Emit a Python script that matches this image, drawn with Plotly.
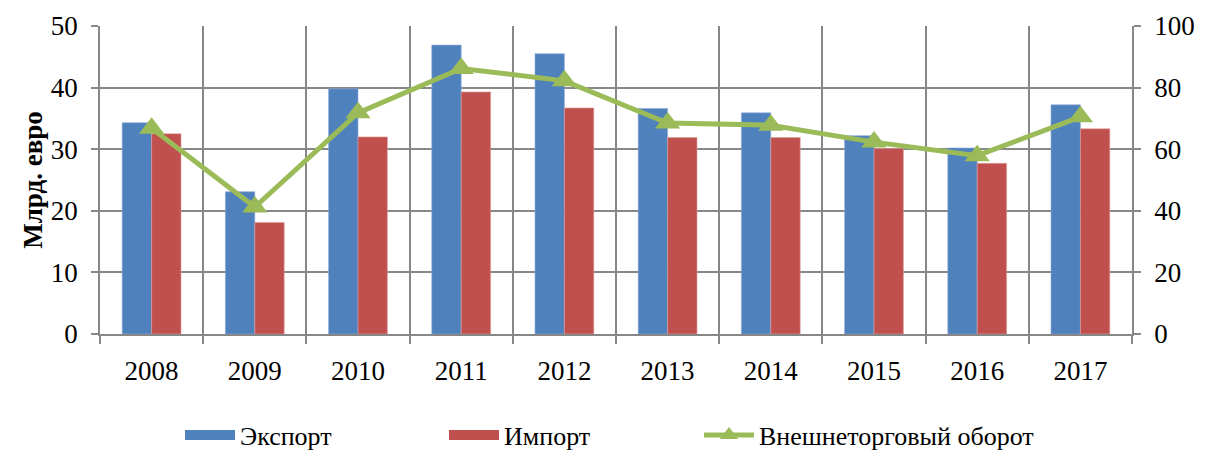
import plotly.graph_objects as go

years = ["2008", "2009", "2010", "2011", "2012", "2013", "2014", "2015", "2016", "2017"]
export_vals = [34.3, 23.1, 39.8, 46.9, 45.5, 36.6, 35.9, 32.2, 30.2, 37.2]
import_vals = [32.5, 18.1, 32.0, 39.3, 36.7, 31.9, 31.9, 30.1, 27.7, 33.3]
turnover_vals = [66.8, 41.2, 71.8, 86.2, 82.2, 68.5, 67.8, 62.3, 57.9, 70.5]

FONT = "Liberation Serif, Times New Roman, serif"
GRID = "#878787"
BLUE, RED, GREEN = "#4F81BD", "#C0504D", "#9BBB59"
FS = 27
W, H = 1189, 443  # page body has an 8px margin; keep page exactly 1205x459

fig = go.Figure()
fig.add_trace(go.Bar(x=years, y=export_vals, name="Экспорт", showlegend=False,
                     marker=dict(color=BLUE, line=dict(color="#8EAADB", width=0.6))))
fig.add_trace(go.Bar(x=years, y=import_vals, name="Импорт", showlegend=False,
                     marker=dict(color=RED, line=dict(color="#E0A09E", width=0.6))))
fig.add_trace(go.Scatter(x=years, y=turnover_vals, name="Внешнеторговый оборот",
                         yaxis="y2", mode="lines+markers", legend="legend3",
                         line=dict(color=GREEN, width=5),
                         marker=dict(symbol="triangle-up", size=22, color=GREEN)))
# legend keys drawn as wide rectangles, like the reference
fig.add_trace(go.Scatter(x=[None], y=[None], name="Экспорт", mode="lines", legend="legend",
                         line=dict(color=BLUE, width=18), hoverinfo="skip"))
fig.add_trace(go.Scatter(x=[None], y=[None], name="Импорт", mode="lines", legend="legend2",
                         line=dict(color=RED, width=18), hoverinfo="skip"))

def leg(px):
    return dict(orientation="h", xref="container", yref="container",
                x=px / W, xanchor="left", y=1 - 427 / H, yanchor="middle",
                font=dict(size=26), itemwidth=50, bgcolor="rgba(0,0,0,0)")

fig.update_layout(
    width=W, height=H,
    margin=dict(l=92, r=65, t=18, b=117, autoexpand=False),
    paper_bgcolor="white", plot_bgcolor="white",
    font=dict(family=FONT, size=FS, color="black"),
    barmode="group", bargap=0.43, bargroupgap=0,
    showlegend=True,
    legend=leg(172), legend2=leg(436), legend3=leg(691),
    xaxis=dict(type="category", range=[-0.5, 9.5], tickson="boundaries",
               showgrid=True, gridcolor=GRID, gridwidth=1.5,
               showline=True, linecolor=GRID, linewidth=1.5, automargin=False,
               ticks="outside", ticklen=8, tickcolor=GRID, tickwidth=1.5,
               tickfont=dict(size=FS), ticklabelstandoff=12),
    yaxis=dict(range=[0, 50], dtick=10, showgrid=True, gridcolor=GRID, gridwidth=1.5,
               showline=True, linecolor=GRID, linewidth=1.5, zeroline=False, automargin=False,
               ticks="outside", ticklen=7, tickcolor=GRID, tickwidth=1.5,
               tickfont=dict(size=FS), ticklabelstandoff=8,
               title=dict(text="<b>Млрд. евро</b>", font=dict(size=FS), standoff=0)),
    yaxis2=dict(range=[0, 100], dtick=20, overlaying="y", side="right", showgrid=False,
                showline=True, linecolor=GRID, linewidth=1.5, zeroline=False, automargin=False,
                ticks="outside", ticklen=7, tickcolor=GRID, tickwidth=1.5,
                tickfont=dict(size=FS), ticklabelstandoff=8),
)

fig.write_html("out.html")
